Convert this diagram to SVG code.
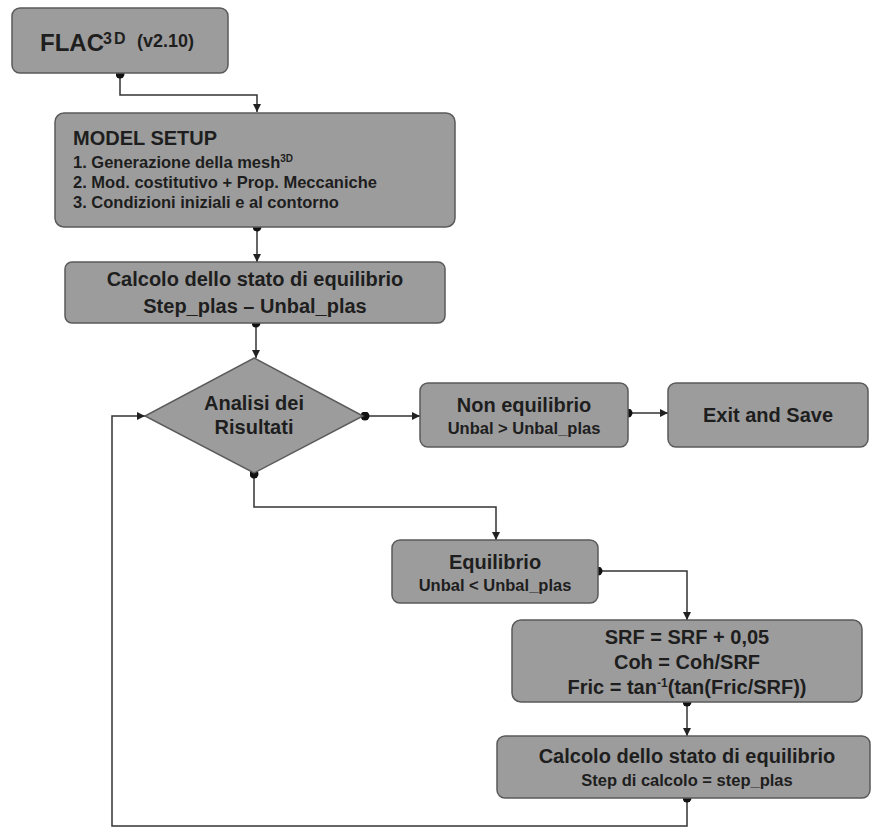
<svg xmlns="http://www.w3.org/2000/svg" width="871" height="828" viewBox="0 0 871 828">
<style>
.box{fill:#9c9c9c;stroke:#5a5a5a;stroke-width:1.5}
.t{font-family:"Liberation Sans",Arial,sans-serif;fill:#1e1e1e;font-weight:bold}
.big{font-size:20px}
.sm{font-size:16.5px}
.c{text-anchor:middle}
.con{fill:none;stroke:#333;stroke-width:1.5}
</style>
<defs>
<marker id="arr" viewBox="0 0 10 10" refX="10" refY="5" markerWidth="8" markerHeight="8" markerUnits="userSpaceOnUse" orient="auto"><path d="M0,0L10,5L0,10z" fill="#222"/></marker>
<marker id="dot" viewBox="0 0 10 10" refX="5" refY="5" markerWidth="9" markerHeight="9" markerUnits="userSpaceOnUse"><circle cx="5" cy="5" r="5" fill="#111"/></marker>
</defs>
<g id="connectors">
<path class="con" d="M120,74V95H257V112" marker-start="url(#dot)" marker-end="url(#arr)"/>
<path class="con" d="M257,227V262" marker-start="url(#dot)" marker-end="url(#arr)"/>
<path class="con" d="M256,323V358" marker-start="url(#dot)" marker-end="url(#arr)"/>
<path class="con" d="M365,416H420" marker-start="url(#dot)" marker-end="url(#arr)"/>
<path class="con" d="M628,413H668" marker-start="url(#dot)" marker-end="url(#arr)"/>
<path class="con" d="M254,474V507H496V540" marker-start="url(#dot)" marker-end="url(#arr)"/>
<path class="con" d="M598,571H687V620" marker-start="url(#dot)" marker-end="url(#arr)"/>
<path class="con" d="M687,702V736" marker-start="url(#dot)" marker-end="url(#arr)"/>
<path class="con" d="M687,798V826H112V416H145" marker-start="url(#dot)" marker-end="url(#arr)"/>
</g>
<g id="flac">
<rect class="box" x="12" y="8" width="216" height="65" rx="8"/>
<text class="t" x="40" y="51" font-size="24">FLAC</text>
<text class="t" x="103" y="44" font-size="16" letter-spacing="2">3D</text>
<text class="t" x="137" y="47" font-size="18">(v2.10)</text>
</g>
<g id="model-setup">
<rect class="box" x="55" y="113" width="400" height="114" rx="9"/>
<text class="t" x="73" y="145" font-size="20">MODEL SETUP</text>
<text class="t" x="73" y="168" font-size="16.5">1. Generazione della mesh<tspan font-size="10" dy="-6">3D</tspan></text>
<text class="t" x="73" y="188" font-size="16.5">2. Mod. costitutivo + Prop. Meccaniche</text>
<text class="t" x="73" y="208" font-size="16.5">3. Condizioni iniziali e al contorno</text>
</g>
<g id="calcolo1">
<rect class="box" x="65" y="262" width="380" height="61" rx="7"/>
<text class="t big c" x="255" y="286">Calcolo dello stato di equilibrio</text>
<text class="t big c" x="255" y="313">Step_plas – Unbal_plas</text>
</g>
<g id="analisi">
<polygon class="box" points="254,358 363,416 254,473 145,416"/>
<text class="t big c" x="254" y="410">Analisi dei</text>
<text class="t big c" x="254" y="434">Risultati</text>
</g>
<g id="non-equilibrio">
<rect class="box" x="420" y="383" width="208" height="64" rx="8"/>
<text class="t big c" x="524" y="412">Non equilibrio</text>
<text class="t sm c" x="524" y="434">Unbal &gt; Unbal_plas</text>
</g>
<g id="exit">
<rect class="box" x="668" y="383" width="200" height="64" rx="8"/>
<text class="t big c" x="768" y="422">Exit and Save</text>
</g>
<g id="equilibrio">
<rect class="box" x="392" y="540" width="206" height="63" rx="8"/>
<text class="t big c" x="495" y="569">Equilibrio</text>
<text class="t sm c" x="495" y="591">Unbal &lt; Unbal_plas</text>
</g>
<g id="srf">
<rect class="box" x="512" y="620" width="350" height="82" rx="9"/>
<text class="t big c" x="687" y="644">SRF = SRF + 0,05</text>
<text class="t big c" x="687" y="669">Coh = Coh/SRF</text>
<text class="t big c" x="687" y="694">Fric = tan<tspan font-size="12" dy="-7">-1</tspan><tspan dy="7">(tan(Fric/SRF))</tspan></text>
</g>
<g id="calcolo2">
<rect class="box" x="497" y="736" width="373" height="62" rx="8"/>
<text class="t big c" x="687" y="763">Calcolo dello stato di equilibrio</text>
<text class="t sm c" x="687" y="786">Step di calcolo = step_plas</text>
</g>
</svg>
